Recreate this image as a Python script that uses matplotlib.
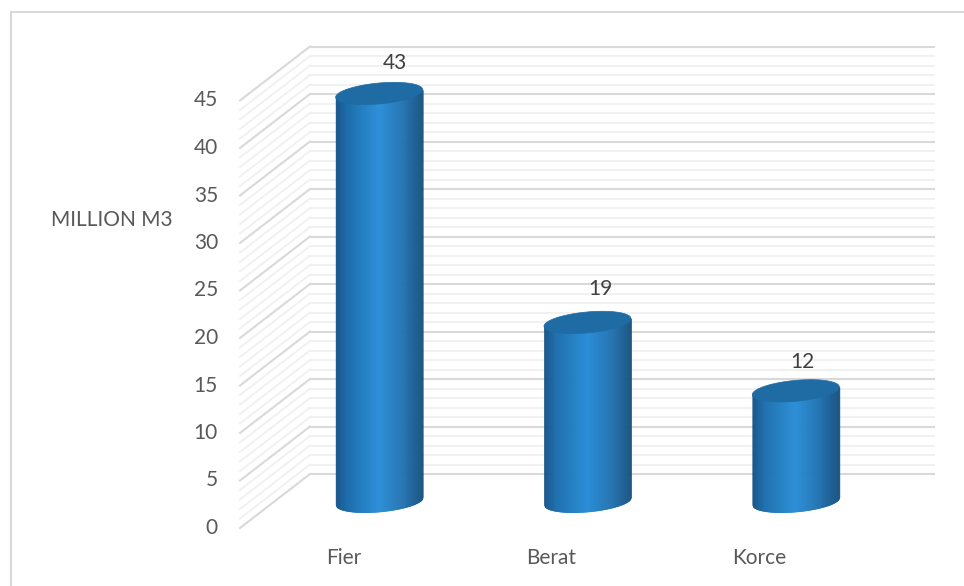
"""3D-look cylinder chart of volume per city, saved as out.png."""
import numpy as np
import matplotlib
matplotlib.use("Agg")
import matplotlib.pyplot as plt
from matplotlib.colors import LinearSegmentedColormap
from matplotlib.lines import Line2D
from matplotlib.transforms import Affine2D

cities = ["Fier", "Berat", "Korce"]
volumes = [42.9, 18.8, 11.6]
major_ticks = [0, 5, 10, 15, 20, 25, 30, 35, 40, 45]
minor_ticks = [v for v in range(46) if v % 5 != 0]
axis_title = "MILLION M3"

W, H = 964, 586
BACK_L, BACK_R, BACK_0, BACK_45 = 310, 935, 474, 46.5
DEPTH_X, DEPTH_Y = 70, 54      # back wall -> front edge, pixels
LABEL_NUDGE = [(16, 30), (13, 33), (7, 29)]   # data labels sit a bit unevenly, pixels

plt.rcParams["font.family"] = ["Lato", "DejaVu Sans"]
fig = plt.figure(figsize=(W / 100, H / 100), dpi=100)
ax = fig.add_axes([BACK_L / W, 1 - BACK_0 / H, (BACK_R - BACK_L) / W, (BACK_0 - BACK_45) / H])
ax.set_xlim(0, len(cities))
ax.set_ylim(0, 45)
ax.axis("off")

front = ax.transData + Affine2D().translate(-DEPTH_X, -DEPTH_Y)
middle = ax.transData + Affine2D().translate(-DEPTH_X / 2, -DEPTH_Y / 2)


def grid_line(v, color, lw, z):
    ax.plot([0, 3], [v, v], color=color, lw=lw, zorder=z, clip_on=False, solid_capstyle="butt")
    # wall part, from the back plane out to the front edge
    x0, y0 = ax.transData.transform((0, v))
    x1, y1 = front.transform((0, v))
    fig.add_artist(Line2D([x0 / W, x1 / W], [y0 / H, y1 / H], color=color, lw=lw, zorder=z))


for v in minor_ticks:
    grid_line(v, "#f0f0f0", 1.3, 1)
for v in major_ticks:
    grid_line(v, "#d9d9d9", 1.5, 2)

shade = LinearSegmentedColormap.from_list(
    "cyl", [(0, "#17548a"), (0.14, "#1d6fad"), (0.5, "#2a8ed8"), (0.78, "#2473b0"),
            (0.93, "#1d5d90"), (1, "#1a5480")])

HALF_W = 43.5 / 208.3           # cylinder half width, category units
B = 1.10                        # ellipse half height, value units
S = 0.40                        # ellipse tilt, value units
us = np.linspace(-1, 1, 89)

for i, (city, vol) in enumerate(zip(cities, volumes)):
    xc = i + 0.5
    # side of the cylinder, thin strips from the lower arc of the base up to the top
    for a, b in zip(us[:-1], us[1:]):
        xs = xc + np.array([a, b]) * HALF_W
        low = S * np.array([a, b]) - B * np.sqrt(1 - np.array([a, b]) ** 2)
        c = shade((a + b + 2) / 4)
        ax.fill_between(xs, low, vol + S * np.array([a, b]), color=c, lw=0.5,
                        transform=middle, zorder=5, clip_on=False)
    t = np.linspace(0, 2 * np.pi, 100)
    ax.fill(xc + HALF_W * np.cos(t), vol + S * np.cos(t) + B * np.sin(t), color="#1f6ba3", lw=0.5,
            transform=middle, zorder=6, clip_on=False)
    ax.annotate(f"{vol:.0f}", (xc, vol), xycoords=middle, xytext=LABEL_NUDGE[i], textcoords="offset pixels",
                ha="center", va="center", fontsize=15, color="#404040")
    ax.annotate(city, (xc, 0), xycoords=front, xytext=(-i, -30), textcoords="offset pixels",
                ha="center", va="center", fontsize=15, color="#595959")

for v in major_ticks:
    ax.annotate(str(v), (0, v), xycoords=front, xytext=(-22, 0), textcoords="offset pixels",
                ha="right", va="center", fontsize=15, color="#595959")

fig.text(111.5 / W, 1 - 220 / H, axis_title, ha="center", va="center", fontsize=15, color="#595959")

# chart frame
for xs, ys in [((11, 964), (12, 12)), ((11, 11), (12, 586))]:
    fig.add_artist(Line2D([x / W for x in xs], [1 - y / H for y in ys], color="#d9d9d9", lw=1.5))

fig.savefig("out.png", dpi=100)
